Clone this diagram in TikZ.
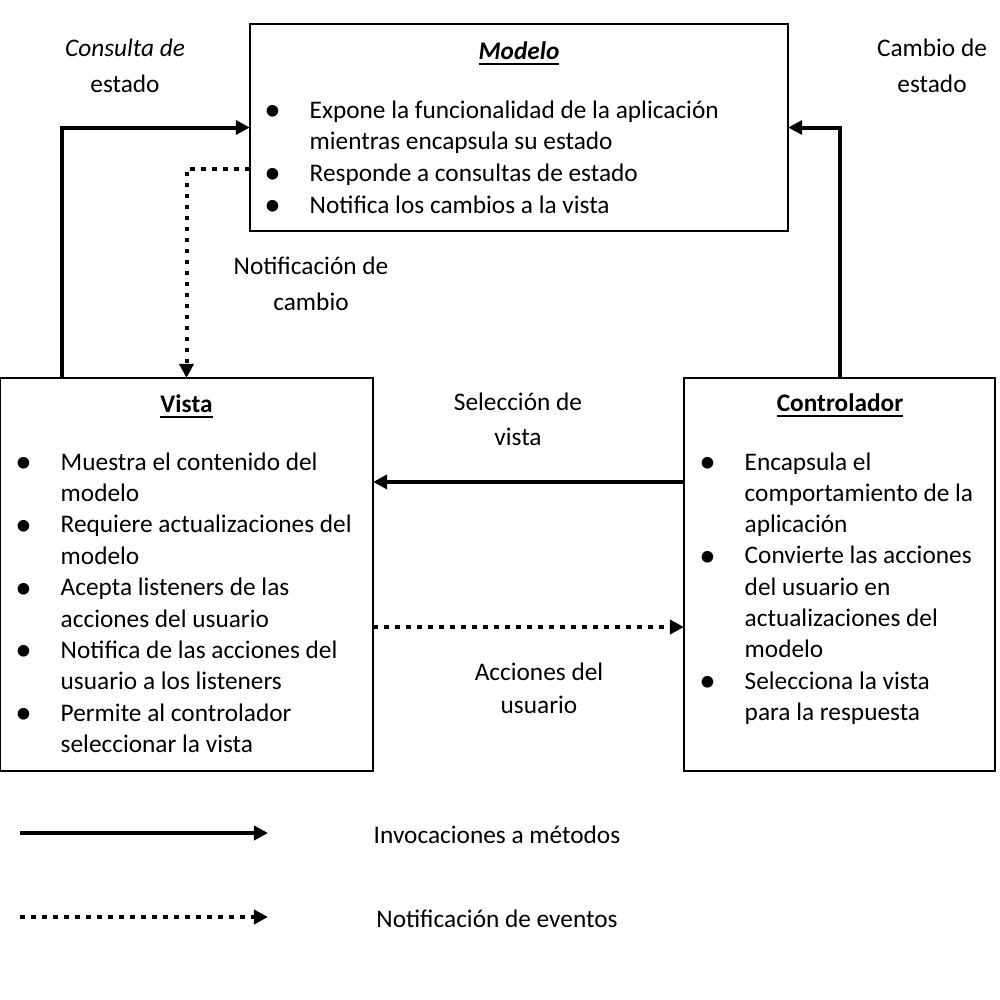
\documentclass[tikz,border=0pt]{standalone}
\usepackage{fontspec}
\setmainfont{Carlito}
\usetikzlibrary{arrows.meta}
\newcommand\bul{\llap{\makebox[0.74cm]{\raisebox{-0.1em}{\scalebox{1.3}{\textbullet}}}}}
\begin{document}
\begin{tikzpicture}[x=0.01cm,y=-0.01cm,
  font=\fontsize{7.2}{8.9}\selectfont,
  box/.style={draw, line width=0.02cm, inner sep=0, outer sep=0},
  txt/.style={anchor=base west, inner sep=0},
  lbl/.style={anchor=base, inner sep=0},
  ttl/.style={anchor=base, inner sep=0, font=\fontsize{7.2}{8.9}\selectfont\bfseries},
  inv/.style={line width=0.04cm, -{Triangle[length=0.14cm,width=0.14cm]}},
  evt/.style={line width=0.04cm, dash pattern=on 0.045cm off 0.065cm, -{Triangle[length=0.14cm,width=0.14cm]}}]
\useasboundingbox (0,0) rectangle (1000,1000);

% boxes
\node[box, minimum width=5.38cm, minimum height=2.07cm] (modelo) at (519,127.5) {};
\node[box, minimum width=3.73cm, minimum height=3.93cm] (vista) at (186.5,574.5) {};
\node[box, minimum width=3.11cm, minimum height=3.93cm] (controlador) at (839.5,574.5) {};

% titles
\node[ttl] (tmodelo) at (519,59) {\underline{\textit{Modelo}}};
\node[ttl] (tvista) at (186.5,412) {\underline{Vista}};
\node[ttl] (tcontrolador) at (840,411) {\underline{Controlador}};

% Modelo items
\foreach \t [count=\i] in {{\bul Expone la funcionalidad de la aplicación},
  {mientras encapsula su estado},
  {\bul Responde a consultas de estado},
  {\bul Notifica los cambios a la vista}}
  \node[txt] (m\i) at (309,{118+31.7*(\i-1)}) {\t};

% Vista items
\foreach \t [count=\i] in {{\bul Muestra el contenido del}, {modelo},
  {\bul Requiere actualizaciones del}, {modelo},
  {\bul Acepta listeners de las}, {acciones del usuario},
  {\bul Notifica de las acciones del}, {usuario a los listeners},
  {\bul Permite al controlador}, {seleccionar la vista}}
  \node[txt] (v\i) at (60,{470+31.4*(\i-1)}) {\t};

% Controlador items
\foreach \t [count=\i] in {{\bul Encapsula el}, {comportamiento de la}, {aplicación},
  {\bul Convierte las acciones}, {del usuario en}, {actualizaciones del}, {modelo},
  {\bul Selecciona la vista}, {para la respuesta}}
  \node[txt] (c\i) at (744,{470+31.3*(\i-1)}) {\t};

% connectors
\draw[inv] ([xshift=0.62cm]vista.north west) |- (modelo.west);
\draw[inv] (controlador.north) |- (modelo.east);
\draw[evt] ([yshift=-0.415cm]modelo.west) -| (vista.north);
\draw[inv] ([yshift=0.925cm]controlador.west) -- ([yshift=0.925cm]vista.east);
\draw[evt] ([yshift=-0.525cm]vista.east) -- ([yshift=-0.525cm]controlador.west);

% connector labels
\node[lbl] (lc1) at (125,56) {\textit{Consulta de}};
\node[lbl] (lc2) at (125,92) {estado};
\node[lbl] (lk1) at (932,56) {Cambio de};
\node[lbl] (lk2) at (932,92) {estado};
\node[lbl] (ln1) at (311,274) {Notificación de};
\node[lbl] (ln2) at (311,310) {cambio};
\node[lbl] (ls1) at (518,410) {Selección de};
\node[lbl] (ls2) at (518,445) {vista};
\node[lbl] (la1) at (539,680) {Acciones del};
\node[lbl] (la2) at (539,713) {usuario};

% legend
\coordinate (l1a) at (20,833);
\coordinate (l1b) at (268,833);
\coordinate (l2a) at (20,917);
\coordinate (l2b) at (268,917);
\draw[inv] (l1a) -- (l1b);
\draw[evt] (l2a) -- (l2b);
\node[lbl] (li) at (497,843) {Invocaciones a métodos};
\node[lbl] (ln) at (497,927) {Notificación de eventos};
\end{tikzpicture}
\end{document}
